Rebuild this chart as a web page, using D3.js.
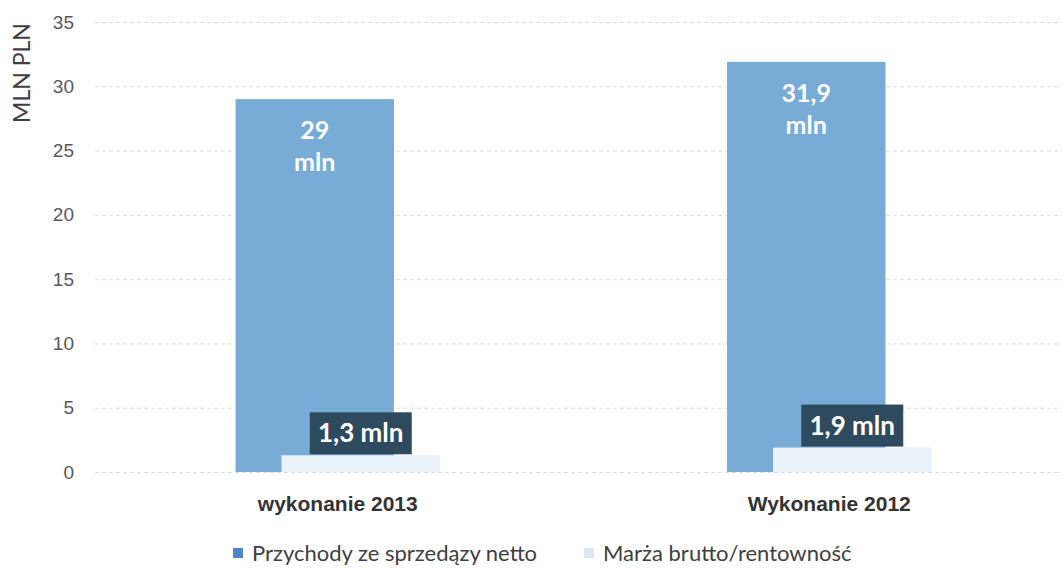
<!DOCTYPE html>
<html>
<head>
<meta charset="utf-8">
<script src="https://cdn.jsdelivr.net/npm/d3@7"></script>
<style>
  body { margin: 0; background: #fff; }
  svg { display: block; font-family: Lato, "Open Sans", sans-serif; }
  .grid line { stroke: #dcdcdc; stroke-dasharray: 4 3; }
  .grid path { display: none; }
  .y.axis text { fill: #595959; font-size: 19px; }
  .y.axis path, .y.axis line, .x.axis path, .x.axis line { display: none; }
  .x.axis text { fill: #333; font-size: 21px; font-weight: bold; }
  .legend text { fill: #404040; font-size: 22px; }
</style>
</head>
<body>
<div id="chart"></div>
<script>
const categories = ["wykonanie 2013", "Wykonanie 2012"];
const seriesNames = ["Przychody ze sprzedązy netto", "Marża brutto/rentowność"];
const przychody = [29, 31.9];
const marza = [1.3, 1.9];
const yTicks = [0, 5, 10, 15, 20, 25, 30, 35];

const width = 1062;
const height = 568;
const colors = ["#78acd6", "#e9f1f9"];

const data = categories.map(function(c, i) {
  return { cat: c, values: [przychody[i], marza[i]] };
});

// scales
const x0 = d3
  .scaleBand()
  .domain(categories)
  .range([92, 1075])
  .paddingInner(0.584)
  .paddingOuter(0.292);

const x1 = d3
  .scalePoint()
  .domain(seriesNames)
  .range([0, 46]);

const barWidth = x0.bandwidth() - 46;

const y = d3.scaleLinear().domain([0, 35]).range([472, 22]);

const fmt = function(v) {
  return String(v).replace(".", ",");
};

const svg = d3
  .select("#chart")
  .append("svg")
  .attr("width", width)
  .attr("height", height);

// gridlines
svg
  .append("g")
  .attr("class", "grid")
  .attr("transform", "translate(95,0)")
  .call(
    d3.axisLeft(y)
      .tickValues(yTicks)
      .tickSize(-(width - 95))
      .tickFormat("")
  );

// y axis
svg
  .append("g")
  .attr("class", "y axis")
  .attr("transform", "translate(76,0)")
  .call(d3.axisLeft(y).tickValues(yTicks).tickSize(0).tickPadding(2));

svg
  .append("text")
  .attr("transform", "translate(30,73) rotate(-90)")
  .attr("text-anchor", "middle")
  .style("font-size", "23px")
  .style("fill", "#404040")
  .text("MLN PLN");

// x axis labels
svg
  .append("g")
  .attr("class", "x axis")
  .attr("transform", "translate(0,488)")
  .call(d3.axisBottom(x0).tickSize(0).tickPadding(8));

// bars
const group = svg
  .selectAll(".group")
  .data(data)
  .enter()
  .append("g")
  .attr("class", "group")
  .attr("transform", function(d) {
    return "translate(" + x0(d.cat) + ",0)";
  });

group
  .selectAll("rect.bar")
  .data(function(d) {
    return d.values.map(function(v, i) {
      return { key: seriesNames[i], value: v, i: i };
    });
  })
  .enter()
  .append("rect")
  .attr("class", "bar")
  .attr("x", function(d) {
    return x1(d.key);
  })
  .attr("width", barWidth)
  .attr("y", function(d) {
    return y(d.value);
  })
  .attr("height", function(d) {
    return y(0) - y(d.value);
  })
  .style("fill", function(d) {
    return colors[d.i];
  });

// labels inside big bars
group.each(function(d) {
  const g = d3.select(this);
  const cx = x1(seriesNames[0]) + barWidth / 2;
  const t = g
    .append("text")
    .attr("text-anchor", "middle")
    .style("fill", "#fff")
    .style("font-weight", "bold")
    .style("font-size", "25px");
  t.append("tspan")
    .attr("x", cx)
    .attr("y", y(d.values[0]) + 40)
    .text(fmt(d.values[0]));
  t.append("tspan")
    .attr("x", cx)
    .attr("y", y(d.values[0]) + 72)
    .text("mln");

  // label box above the small bar
  const sx = x1(seriesNames[1]) + barWidth / 2;
  const top = y(d.values[1]);
  g.append("rect")
    .attr("x", sx - 51)
    .attr("y", top - 43)
    .attr("width", 102)
    .attr("height", 42)
    .style("fill", "#2e4a5e");
  g.append("text")
    .attr("x", sx)
    .attr("y", top - 13)
    .attr("text-anchor", "middle")
    .style("fill", "#fff")
    .style("font-weight", "bold")
    .style("font-size", "26px")
    .text(fmt(d.values[1]) + " mln");
});

// legend
const legendX = [233, 584];
const legend = svg
  .selectAll(".legend")
  .data(seriesNames)
  .enter()
  .append("g")
  .attr("class", "legend")
  .attr("transform", function(d, i) {
    return "translate(" + legendX[i] + ",548)";
  });

legend
  .append("rect")
  .attr("width", 10)
  .attr("height", 10)
  .style("fill", function(d, i) {
    return i === 0 ? "#4f86c6" : "#dde8f3";
  });

legend
  .append("text")
  .attr("x", 19)
  .attr("y", 13)
  .text(function(d) {
    return d;
  });
</script>
</body>
</html>
